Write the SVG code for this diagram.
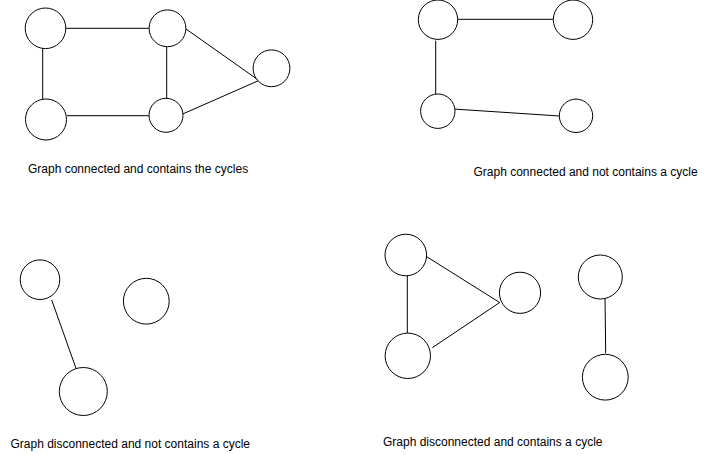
<svg xmlns="http://www.w3.org/2000/svg" width="707" height="455" viewBox="0 0 707 455">
<style>
.n{fill:#fff;stroke:#000;stroke-width:1}
.e{stroke:#000;stroke-width:1;fill:none}
.t{font-family:"Liberation Sans",Arial,sans-serif;font-size:12px;fill:#000}
</style>
<rect width="707" height="455" fill="#fff"/>
<g id="connectors">
<line class="e" x1="65.7" y1="28.3" x2="149" y2="28.3"/>
<line class="e" x1="42.7" y1="48.3" x2="42.7" y2="99"/>
<line class="e" x1="166.7" y1="46.7" x2="166.7" y2="98.3"/>
<line class="e" x1="185" y1="28.3" x2="258.3" y2="80"/>
<line class="e" x1="182.7" y1="114" x2="260" y2="80"/>
<line class="e" x1="66.7" y1="115.7" x2="149" y2="115.7"/>
<line class="e" x1="457.7" y1="19.3" x2="553.3" y2="19.3"/>
<line class="e" x1="435.7" y1="40.7" x2="435.7" y2="94.3"/>
<line class="e" x1="453.3" y1="109" x2="559.3" y2="116"/>
<line class="e" x1="51.7" y1="300" x2="76" y2="368.3"/>
<line class="e" x1="407.3" y1="275.7" x2="407.3" y2="333.3"/>
<line class="e" x1="426.7" y1="256.7" x2="499.3" y2="302.3"/>
<line class="e" x1="432.3" y1="347.7" x2="500" y2="302.3"/>
<line class="e" x1="605" y1="296" x2="605.7" y2="353.3"/>
</g>
<g id="g1a"><circle class="n" cx="45.5" cy="28.3" r="20.3"/></g>
<g id="g1b"><circle class="n" cx="167.5" cy="28.3" r="18.4"/></g>
<g id="g1c"><circle class="n" cx="271.5" cy="68.3" r="18.4"/></g>
<g id="g1d"><circle class="n" cx="46" cy="119.5" r="20.5"/></g>
<g id="g1e"><circle class="n" cx="166" cy="115.3" r="17"/></g>
<g id="g2a"><circle class="n" cx="438" cy="19.7" r="19.7"/></g>
<g id="g2b"><circle class="n" cx="573" cy="19.7" r="19.7"/></g>
<g id="g2c"><circle class="n" cx="437.8" cy="111.2" r="17.2"/></g>
<g id="g2d"><circle class="n" cx="576" cy="115.8" r="16.7"/></g>
<g id="g3a"><circle class="n" cx="40" cy="279.7" r="19.8"/></g>
<g id="g3b"><circle class="n" cx="146.3" cy="301.2" r="22.9"/></g>
<g id="g3c"><circle class="n" cx="83.3" cy="391.5" r="24"/></g>
<g id="g4a"><circle class="n" cx="405.8" cy="255" r="20.8"/></g>
<g id="g4b"><circle class="n" cx="520" cy="292.8" r="20.6"/></g>
<g id="g4c"><circle class="n" cx="407.8" cy="355.8" r="22.7"/></g>
<g id="g4d"><circle class="n" cx="600.3" cy="277" r="22"/></g>
<g id="g4e"><circle class="n" cx="605.3" cy="377.2" r="22.9"/></g>
<text class="t" x="28" y="173">Graph connected and contains the cycles</text>
<text class="t" x="473.5" y="176">Graph connected and not contains a cycle</text>
<text class="t" x="10.5" y="448">Graph disconnected and not contains a cycle</text>
<text class="t" x="383" y="446">Graph disconnected and contains a cycle</text>
</svg>
